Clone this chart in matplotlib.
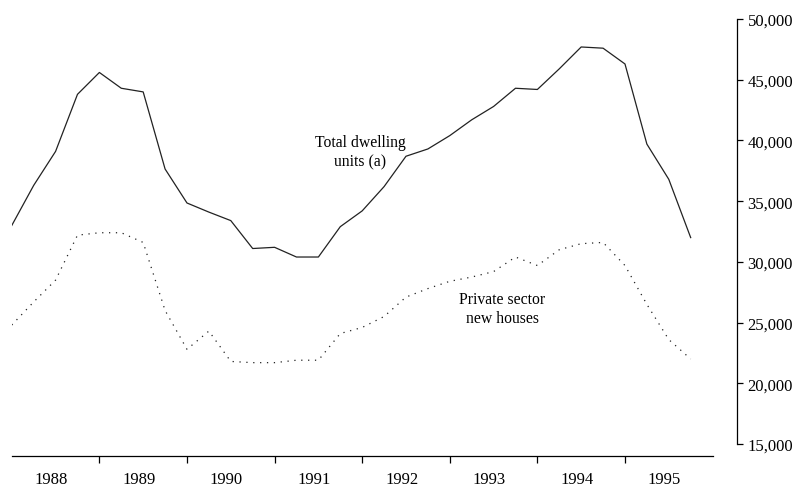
from matplotlib import pyplot as plt
from matplotlib.ticker import FixedLocator, FuncFormatter

# quarterly values, Sep qtr 1987 .. Jun qtr 1995
total_units = [33000, 36300, 39100, 43800, 45600, 44300, 44000, 37650,
               34850, 34100, 33400, 31100, 31200, 30400, 30400, 32900,
               34200, 36200, 38700, 39300, 40400, 41700, 42800, 44300,
               44200, 45900, 47700, 47600, 46300, 39700, 36800, 32000]
private_houses = [24800, 26700, 28500, 32200, 32400, 32400, 31600, 26000,
                  22800, 24300, 21800, 21700, 21700, 21900, 21900, 24100,
                  24600, 25500, 27100, 27800, 28400, 28750, 29200, 30400,
                  29700, 31000, 31500, 31600, 29700, 26500, 23600, 22000]
years = ["1988", "1989", "1990", "1991", "1992", "1993", "1994", "1995"]
y_ticks = [15000, 20000, 25000, 30000, 35000, 40000, 45000, 50000]

quarters = list(range(len(total_units)))

plt.rcParams['font.family'] = ['Liberation Serif', 'DejaVu Serif']

fig = plt.figure(figsize=(8.07, 4.89), dpi=100)
ax = fig.add_axes([0.0146, 0.0654, 0.8684, 0.8936])

ax.plot(quarters, total_units, color='#222222', lw=0.9)
ax.plot(quarters, private_houses, color='#222222', lw=0.9, linestyle=(0, (1, 4.5)))

ax.set_xlim(0, 32)
ax.set_ylim(14010, 50000)

# right hand value axis
ax.spines['left'].set_visible(False)
ax.spines['top'].set_visible(False)
ax.spines['right'].set_position(('outward', 17.6))
ax.spines['right'].set_bounds(15000, 50000)
ax.spines['right'].set_linewidth(0.9)
ax.spines['bottom'].set_linewidth(0.9)
ax.yaxis.tick_right()
ax.yaxis.set_major_locator(FixedLocator(y_ticks))
ax.yaxis.set_major_formatter(FuncFormatter(lambda v, p: f"{int(v):,}"))
ax.tick_params(axis='y', direction='out', length=4.5, width=0.9, pad=3, labelsize=12)

# year boundaries get ticks, labels sit between them
ax.xaxis.set_major_locator(FixedLocator([4 * i for i in range(1, 8)]))
ax.xaxis.set_major_formatter(FuncFormatter(lambda v, p: ""))
ax.xaxis.set_minor_locator(FixedLocator([4 * i + 1.8 for i in range(len(years))]))
ax.set_xticklabels(years, minor=True)
ax.tick_params(axis='x', which='major', direction='out', length=5, width=0.9)
ax.tick_params(axis='x', which='minor', length=0, pad=11, labelsize=12)

ax.text(15.9, 39100, "Total dwelling\nunits (a)", ha='center', va='center',
        fontsize=11.3, linespacing=1.25)
ax.text(22.4, 26200, "Private sector\nnew houses", ha='center', va='center',
        fontsize=11.3, linespacing=1.25)

fig.savefig("out.png", dpi=100)
